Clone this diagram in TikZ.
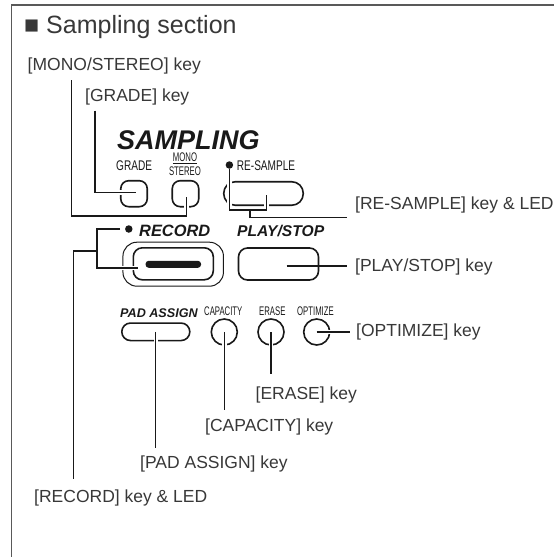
\documentclass[tikz,border=0pt]{standalone}
\usepackage{fontspec}
\setmainfont{Liberation Sans}
\newfontfamily\panelfont[FakeStretch=0.72]{Liberation Sans}
\newfontfamily\panelsmallfont[FakeStretch=0.62]{Liberation Sans}
\colorlet{label text color}{black!78}
\colorlet{panel color}{black!90}
\tikzset{
    x={1pt},
    y={-1pt},
    frame line/.style={
        draw=black!65,
        line width={1.3pt},
    },
    section title/.style={
        font={\fontsize{25}{28}\selectfont},
        text=label text color,
        anchor=west,
        inner sep=0pt,
    },
    key label/.style={
        font={\fontsize{17.5}{20}\selectfont},
        text=label text color,
        anchor=west,
        inner sep=0pt,
    },
    group title/.style={
        font={\fontsize{#1}{#1}\selectfont\bfseries\itshape},
        text=panel color,
        anchor=west,
        inner sep=0pt,
    },
    panel label/.style={
        font={\fontsize{14}{14}\selectfont\panelfont},
        text=panel color,
        anchor=west,
        inner sep=0pt,
    },
    panel small label/.style={
        font={\fontsize{12.5}{12.5}\selectfont\panelsmallfont},
        text=panel color,
        anchor=west,
        inner sep=0pt,
    },
    panel key/.style 2 args={
        draw=panel color, rectangle,
        rounded corners={#2},
        line width={1.6pt},
        inner sep=0pt,
        minimum width={#1},
    },
    round key/.style={
        draw=panel color, circle,
        line width={1.6pt},
        inner sep=0pt,
        minimum size={26},
    },
    led/.style={
        circle, fill=panel color,
        inner sep=0pt,
        minimum size={7.5},
    },
    leader/.style={
        draw=panel color,
        line width={1.1pt},
    },
    cut leader/.style={
        leader,
        preaction={draw=white, line width={4.5pt}},
    },
}

\begin{document}
\begin{tikzpicture}
\useasboundingbox (0,0) rectangle (554,557);
% frame
\draw[frame line] (11.7,557) -- (11.7,5) -- (554,5);
\node[section title] (title) at (24,27) {■ Sampling section};
% labels
\node[key label] (lblMono) at (27.5,66) {[MONO/STEREO] key};
\node[key label] (lblGrade) at (85,97) {[GRADE] key};
\node[key label] (lblResample) at (355,205) {[RE-SAMPLE] key \& LED};
\node[key label] (lblPlay) at (355,266.5) {[PLAY/STOP] key};
\node[key label] (lblOptimize) at (356,332) {[OPTIMIZE] key};
\node[key label] (lblErase) at (255.5,395) {[ERASE] key};
\node[key label] (lblCapacity) at (205,427) {[CAPACITY] key};
\node[key label] (lblPad) at (140,464) {[PAD ASSIGN] key};
\node[key label] (lblRecord) at (34,498) {[RECORD] key \& LED};
% panel texts
\node[group title=27] (capSampling) at (117,140) {SAMPLING};
\node[group title=16.4] (capRecord) at (139,231) {RECORD};
\node[group title=15.6] (capPlay) at (237,231) {PLAY/STOP};
\node[group title=12.6] (capPad) at (120,313) {PAD ASSIGN};
\node[panel label] (capGrade) at (116,166) {GRADE};
\node[panel small label, anchor=center, align=center] (capMono) at (185,164) {\underline{MONO}\\[1pt]STEREO};
\node[panel label] (capResample) at (236.7,166) {RE-SAMPLE};
\node[panel small label] (capCapacity) at (204,311.5) {CAPACITY};
\node[panel small label] (capErase) at (259,311.5) {ERASE};
\node[panel small label] (capOptimize) at (297,311.5) {OPTIMIZE};
% keys
\node[panel key={26.5}{8}, minimum height={26}] (keyGrade) at (134,193.7) {};
\node[panel key={26.5}{8}, minimum height={26}] (keyMono) at (185.5,193.7) {};
\node[panel key={79.5}{11.5}, minimum height={23.5}] (keyResample) at (263.5,193.5) {};
\node[panel key={100.5}{14}, minimum height={44}, line width={1pt}] (keyRecordRim) at (173.2,264.2) {};
\node[panel key={80}{9}, minimum height={32}] (keyRecord) at (173.3,263.8) {};
\node[panel key={54}{2.7}, minimum height={5.5}, fill=panel color] (keyRecordBar) at (173.3,264.3) {};
\node[panel key={80}{9}, minimum height={32}] (keyPlay) at (278.5,264) {};
\node[panel key={68}{8.7}, minimum height={17.5}] (keyPad) at (155.8,331.8) {};
\node[round key] (keyCapacity) at (224.3,332) {};
\node[round key] (keyErase) at (271,332) {};
\node[round key] (keyOptimize) at (316.7,332) {};
% leds
\node[led] (ledResample) at (229.4,165) {};
\node[led] (ledRecord) at (128.8,229) {};
% leader ends
\coordinate (monoTop) at (71.7,80);
\coordinate (gradeTop) at (95,110.7);
\coordinate (resampleTip) at (266.7,195);
\coordinate (resampleFork) at (250,210);
\coordinate (resampleEnd) at (347,217.5);
\coordinate (playTip) at (286.7,266);
\coordinate (playEnd) at (347,266);
\coordinate (recordStart) at (120,229);
\coordinate (recordTip) at (138,268);
\coordinate (recordFork) at (97,251);
\coordinate (recordFoot) at (73.5,479.3);
\coordinate (padFoot) at (155.8,447.7);
\coordinate (capacityFoot) at (224.3,410);
\coordinate (eraseFoot) at (271,374);
\coordinate (optimizeEnd) at (350,332);
% leaders
\draw[cut leader] (monoTop) |- (186.7,216) -- (186.7,196.5);
\draw[cut leader] (gradeTop) |- (136,192.7);
\draw[cut leader] (ledResample.south) |- (resampleTip |- resampleFork) -- (resampleTip) (resampleFork) |- (resampleEnd);
\draw[leader] (playTip) -- (playEnd);
\draw[cut leader] (recordStart) -| (recordFork) |- (recordTip) (recordFork) -| (recordFoot);
\draw[cut leader] (keyPad.center) -- (padFoot);
\draw[cut leader] (keyCapacity.center) -- (capacityFoot);
\draw[cut leader] (keyErase.center) -- (eraseFoot);
\draw[cut leader] (keyOptimize.center) -- (optimizeEnd);
\end{tikzpicture}
\end{document}
